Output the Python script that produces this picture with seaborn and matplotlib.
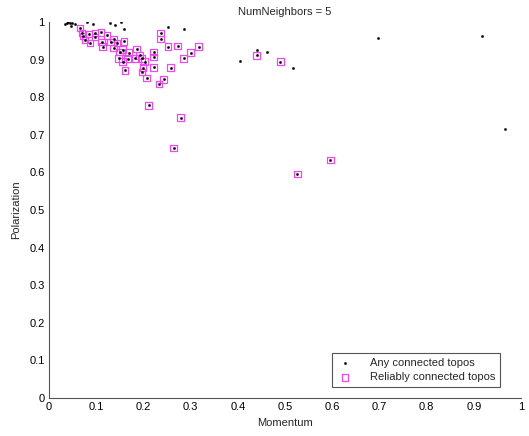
import matplotlib
matplotlib.use("Agg")
import matplotlib.pyplot as plt
import seaborn as sns
import pandas as pd

# Topologies that are reliably connected (momentum, polarization)
reliable_momentum = [
    0.0655, 0.0698, 0.0719, 0.0761, 0.0846, 0.0867, 0.0973, 0.0973, 0.110, 0.112,
    0.114, 0.123, 0.131, 0.137, 0.137, 0.144, 0.159, 0.156, 0.148, 0.156,
    0.167, 0.161, 0.186, 0.182, 0.192, 0.197, 0.203, 0.199, 0.197, 0.207,
    0.222, 0.222, 0.222, 0.237, 0.237, 0.252, 0.273, 0.258, 0.243, 0.233,
    0.211, 0.300, 0.317, 0.285, 0.279, 0.264, 0.440, 0.490, 0.526, 0.596,
    0.169, 0.150,
]
reliable_polarization = [
    0.984, 0.971, 0.963, 0.952, 0.968, 0.944, 0.971, 0.960, 0.973, 0.947,
    0.934, 0.965, 0.947, 0.955, 0.931, 0.944, 0.949, 0.926, 0.904, 0.894,
    0.902, 0.872, 0.928, 0.904, 0.912, 0.904, 0.894, 0.878, 0.867, 0.851,
    0.920, 0.907, 0.880, 0.971, 0.955, 0.934, 0.936, 0.878, 0.848, 0.835,
    0.779, 0.918, 0.934, 0.904, 0.745, 0.665, 0.912, 0.894, 0.596, 0.633,
    0.918, 0.920,
]

# Topologies that are connected but not reliably so
other_momentum = [
    0.034, 0.038, 0.040, 0.044, 0.049, 0.055, 0.047, 0.080, 0.093, 0.129,
    0.140, 0.152, 0.159, 0.252, 0.285, 0.404, 0.440, 0.461, 0.516, 0.698,
    0.918, 0.966,
]
other_polarization = [
    0.995, 0.997, 1.000, 0.997, 0.997, 0.995, 0.989, 1.000, 0.995, 0.997,
    0.992, 1.000, 0.981, 0.987, 0.981, 0.896, 0.926, 0.920, 0.878, 0.957,
    0.963, 0.715,
]

tick_values = [0, 0.1, 0.2, 0.3, 0.4, 0.5, 0.6, 0.7, 0.8, 0.9, 1]
tick_labels = ["0", "0.1", "0.2", "0.3", "0.4", "0.5", "0.6", "0.7", "0.8", "0.9", "1"]

any_df = pd.DataFrame({
    "Momentum": reliable_momentum + other_momentum,
    "Polarization": reliable_polarization + other_polarization,
})
reliable_df = pd.DataFrame({
    "Momentum": reliable_momentum,
    "Polarization": reliable_polarization,
})

sns.set_style("white")
plt.rcParams["font.family"] = ["Liberation Sans", "DejaVu Sans"]
plt.rcParams["font.size"] = 8

fig = plt.figure(figsize=(5.29, 4.36), dpi=100)
ax = fig.add_axes([0.0926, 0.0872, 0.8924, 0.8623])

sns.scatterplot(data=any_df, x="Momentum", y="Polarization", ax=ax,
                marker="o", s=3, color="black", edgecolor="black",
                linewidth=0.2, label="Any connected topos", zorder=3)
sns.scatterplot(data=reliable_df, x="Momentum", y="Polarization", ax=ax,
                marker="s", s=24, facecolors="none", edgecolors="#f048f0",
                linewidth=0.9, label="Reliably connected topos", zorder=2)

ax.set_xlim(0, 1)
ax.set_ylim(0, 1)
ax.set_xticks(tick_values)
ax.set_xticklabels(tick_labels)
ax.set_yticks(tick_values)
ax.set_yticklabels(tick_labels)
ax.tick_params(direction="in", length=4, width=0.8, color="#555555",
               labelsize=8, pad=3, labelcolor="black")

for side in ["top", "right"]:
    ax.spines[side].set_visible(False)
for side in ["left", "bottom"]:
    ax.spines[side].set_color("#555555")
    ax.spines[side].set_linewidth(0.8)

ax.set_xlabel("Momentum", fontsize=8, labelpad=4)
ax.set_ylabel("Polarization", fontsize=8, labelpad=6)
ax.set_title("NumNeighbors = 5", fontsize=8, pad=5)

leg = ax.legend(loc="lower right", bbox_to_anchor=(0.968, 0.014),
                fancybox=False, framealpha=1, edgecolor="#555555",
                fontsize=8, handletextpad=1.5, borderpad=0.45,
                labelspacing=0.35, handlelength=1.5)
leg.get_frame().set_linewidth(0.8)

fig.savefig("out.png", dpi=100, facecolor="white")
